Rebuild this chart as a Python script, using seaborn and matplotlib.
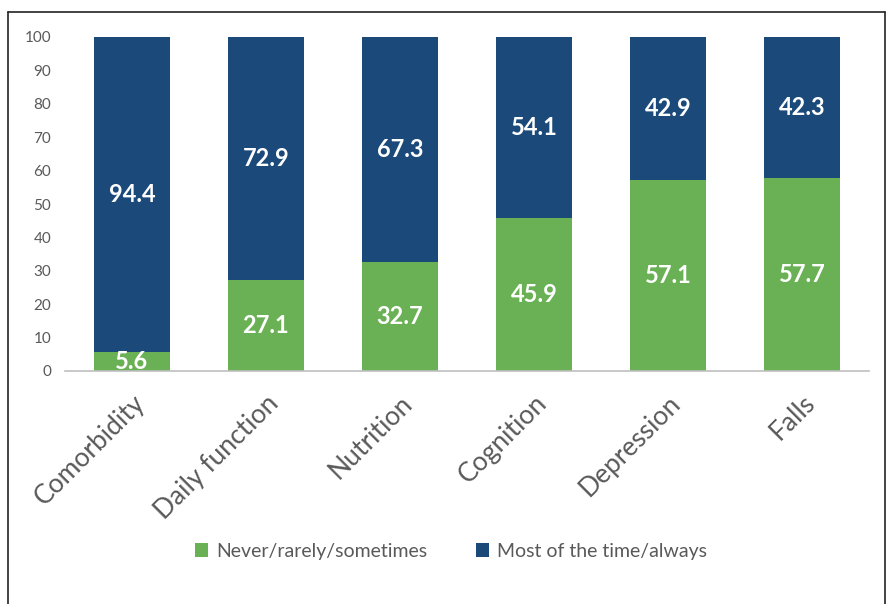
import matplotlib
matplotlib.use("Agg")
import matplotlib.pyplot as plt
import seaborn as sns
import pandas as pd
from matplotlib.patches import Patch
from matplotlib.lines import Line2D

categories = ["Comorbidity", "Daily function", "Nutrition", "Cognition", "Depression", "Falls"]
never = [5.6, 27.1, 32.7, 45.9, 57.1, 57.7]
most = [94.4, 72.9, 67.3, 54.1, 42.9, 42.3]
series_names = ["Never/rarely/sometimes", "Most of the time/always"]
yticks = [0, 10, 20, 30, 40, 50, 60, 70, 80, 90, 100]

GREEN = "#6AB155"
BLUE = "#1B4A7A"
GREY = "#595959"

sns.set_style("white")
plt.rcParams["font.family"] = ["Lato", "DejaVu Sans"]

df = pd.DataFrame({"cat": categories, "never": never, "most": most})
df["total"] = df["never"] + df["most"]

fig = plt.figure(figsize=(8.87, 6.04), dpi=100)
ax = fig.add_axes([65/887, 1-371/604, (869-65)/887, (371-37)/604])

sns.barplot(data=df, x="cat", y="total", color=BLUE, width=0.567, ax=ax, saturation=1, edgecolor="none")
sns.barplot(data=df, x="cat", y="never", color=GREEN, width=0.567, ax=ax, saturation=1, edgecolor="none")

for i, (g, b) in enumerate(zip(never, most)):
    ax.text(i, g/2, f"{g}", ha="center", va="center", color="white", fontsize=17, fontweight="bold")
    ax.text(i, g + b/2, f"{b}", ha="center", va="center", color="white", fontsize=17, fontweight="bold")

ax.set_ylim(0, 100)
ax.set_xlim(-0.5, len(categories) - 0.5)
ax.set_yticks(yticks)
ax.set_yticklabels([str(t) for t in yticks], color=GREY, fontsize=11)
ax.set_xticks(range(len(categories)))
ax.set_xticklabels(categories, rotation=45, ha="right", rotation_mode="anchor", color=GREY, fontsize=19)
ax.tick_params(axis="x", length=0, pad=14)
ax.tick_params(axis="y", length=0, pad=10)
ax.set_xlabel("")
ax.set_ylabel("")
for s in ["top", "right", "left"]:
    ax.spines[s].set_visible(False)
ax.spines["bottom"].set_color("#BFBFBF")
ax.spines["bottom"].set_linewidth(1.2)

handles = [Patch(facecolor=GREEN, edgecolor="none"), Patch(facecolor=BLUE, edgecolor="none")]
fig.legend(handles, series_names, loc="center", bbox_to_anchor=(451/887, 1-551/604), ncol=2,
           frameon=False, fontsize=14, labelcolor=GREY, handlelength=0.7, handleheight=0.7,
           handletextpad=0.4, columnspacing=2.5)

# outer frame
fig.add_artist(Line2D([8/887, 885/887], [1-12/604, 1-12/604], color="#222222", lw=1.2, transform=fig.transFigure))
fig.add_artist(Line2D([8/887, 8/887], [0, 1-12/604], color="#222222", lw=1.2, transform=fig.transFigure))
fig.add_artist(Line2D([885/887, 885/887], [0, 1-12/604], color="#222222", lw=1.2, transform=fig.transFigure))

fig.savefig("out.png", dpi=100)
